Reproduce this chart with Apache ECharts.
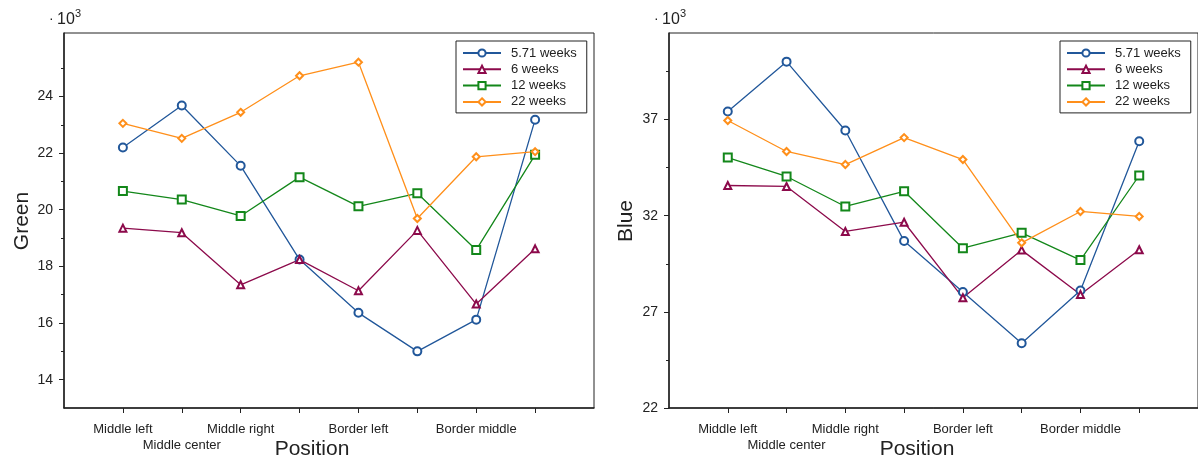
<!DOCTYPE html>
<html>
<head>
<meta charset="utf-8">
<script src="https://cdn.jsdelivr.net/npm/echarts@6/dist/echarts.min.js"></script>
<style>
  html, body { margin: 0; padding: 0; background: #fff; }
  #main { width: 1198px; height: 459px; }
</style>
</head>
<body>
<div id="main"></div>
<script>
// positions along the x axis (empty = tick without label)
const positions = ['Middle left', 'Middle center', 'Middle right', '', 'Border left', '', 'Border middle', ''];
const weeks = ['5.71 weeks', '6 weeks', '12 weeks', '22 weeks'];

// Green channel, x 10^3
const green571 = [22.20, 23.68, 21.55, 18.24, 16.36, 15.00, 16.12, 23.18];
const green6   = [19.35, 19.19, 17.35, 18.24, 17.14, 19.27, 16.67, 18.62];
const green12  = [20.66, 20.36, 19.78, 21.15, 20.12, 20.58, 18.58, 21.94];
const green22  = [23.05, 22.52, 23.44, 24.73, 25.21, 19.69, 21.87, 22.05];

// Blue channel, x 10^3
const blue571 = [37.42, 40.01, 36.43, 30.68, 28.03, 25.37, 28.11, 35.87];
const blue6   = [33.57, 33.52, 31.18, 31.66, 27.73, 30.21, 27.90, 30.23];
const blue12  = [35.02, 34.04, 32.48, 33.27, 30.31, 31.11, 29.69, 34.09];
const blue22  = [36.95, 35.34, 34.66, 36.06, 34.92, 30.59, 32.22, 31.96];

const greenTicks = [14, 16, 18, 20, 22, 24];
const greenMinor = [15, 17, 19, 21, 23, 25];
const blueTicks = [22, 27, 32, 37];
const blueMinor = [24.5, 29.5, 34.5, 39.5];

const font = "'Liberation Sans', Arial, sans-serif";
const ink = '#222';
const colors = ['#21579a', '#8c0a4b', '#13871a', '#ff8f1a'];
const symbols = ['emptyCircle', 'emptyTriangle', 'emptyRect', 'emptyDiamond'];
const symSizes = [8, 7, 8, 7];

var chart = echarts.init(document.getElementById('main'));

// positions sit at 1..8, the frame spans 0..9
let xTicks = positions.map((p, i) => i + 1);
let xLabelled = [0].concat(positions.map((p, i) => p ? i + 1 : null).filter(v => v !== null));

function xAxisFor(gi) {
    return {
        type: 'value', gridIndex: gi, min: 0, max: 9, interval: 1,
        axisLine: { show: true, onZero: false, lineStyle: { color: ink, width: 1.5 } },
        axisTick: { show: true, customValues: xTicks, length: 5, lineStyle: { color: ink } },
        axisLabel: {
            customValues: xLabelled,
            formatter: v => (v < 1 || v > 8) ? '' : (v % 2 === 0 ? '\n' : '') + positions[v - 1],
            fontSize: 13, lineHeight: 16, color: ink, fontFamily: font, margin: 13,
            showMinLabel: true, showMaxLabel: true, hideOverlap: false
        },
        splitLine: { show: false }
    };
}

function yAxisMain(gi, min, max, ticks) {
    return {
        type: 'value', gridIndex: gi, min: min, max: max, position: 'left',
        axisLine: { show: true, lineStyle: { color: ink, width: 1.5 } },
        axisTick: { show: true, customValues: ticks, length: 5, lineStyle: { color: ink } },
        axisLabel: { customValues: ticks, fontSize: 14, color: ink, fontFamily: font, margin: 11 },
        splitLine: { show: false }
    };
}

function yAxisMinor(gi, min, max, ticks) {
    return {
        type: 'value', gridIndex: gi, min: min, max: max, position: 'left', offset: 0,
        axisLine: { show: false },
        axisTick: { show: true, customValues: ticks, length: 3, lineStyle: { color: ink } },
        axisLabel: { show: false },
        splitLine: { show: false }
    };
}

function legendAt(left) {
    return {
        left: left, top: 41, orient: 'vertical', data: weeks,
        itemWidth: 38, itemHeight: 9, itemGap: 2.3,
        padding: [5, 10, 4, 6],
        borderColor: ink, borderWidth: 1, backgroundColor: '#fff',
        lineStyle: { width: 2 },
        textStyle: { fontSize: 13, lineHeight: 14, color: ink, fontFamily: font, padding: [0, 0, 0, 5] }
    };
}

let series = [];
[[green571, green6, green12, green22], [blue571, blue6, blue12, blue22]].forEach((group, gi) => {
    group.forEach((vals, k) => {
        series.push({
            name: weeks[k],
            type: 'line',
            xAxisIndex: gi,
            yAxisIndex: gi * 2,
            data: vals.map((v, i) => [i + 1, v]),
            symbol: symbols[k],
            symbolSize: symSizes[k],
            color: colors[k],
            lineStyle: { width: 1.3, color: colors[k] },
            itemStyle: { color: colors[k], borderWidth: 1.3 },
            animation: false
        });
    });
});

function sciMark(x) {
    return [
        { type: 'text', left: x, top: 12, style: { text: '·', fontSize: 14, fill: ink, fontFamily: font } },
        { type: 'text', left: x + 8, top: 12, style: { text: '10', fontSize: 16, fill: ink, fontFamily: font } },
        { type: 'text', left: x + 26, top: 8, style: { text: '3', fontSize: 11, fill: ink, fontFamily: font } }
    ];
}

let option = {
    backgroundColor: '#fff',
    animation: false,
    grid: [
        { left: 64, top: 33, width: 530, height: 375, show: true, borderColor: ink, borderWidth: 1 },
        { left: 669, top: 33, width: 530, height: 375, show: true, borderColor: ink, borderWidth: 1 }
    ],
    xAxis: [xAxisFor(0), xAxisFor(1)],
    yAxis: [
        yAxisMain(0, 13, 26.24, greenTicks), yAxisMinor(0, 13, 26.24, greenMinor),
        yAxisMain(1, 22, 41.5, blueTicks), yAxisMinor(1, 22, 41.5, blueMinor)
    ],
    legend: [legendAt(456), legendAt(1060)],
    graphic: [
        { type: 'text', x: 22, y: 221, rotation: Math.PI / 2,
          style: { text: 'Green', fontSize: 21, fill: ink, fontFamily: font, align: 'center', verticalAlign: 'middle' } },
        { type: 'text', x: 626, y: 221, rotation: Math.PI / 2,
          style: { text: 'Blue', fontSize: 21, fill: ink, fontFamily: font, align: 'center', verticalAlign: 'middle' } },
        { type: 'text', x: 312, y: 449,
          style: { text: 'Position', fontSize: 21, fill: ink, fontFamily: font, align: 'center', verticalAlign: 'middle' } },
        { type: 'text', x: 917, y: 449,
          style: { text: 'Position', fontSize: 21, fill: ink, fontFamily: font, align: 'center', verticalAlign: 'middle' } }
    ].concat(sciMark(49), sciMark(654)),
    series
};
chart.setOption(option);
</script>
</body>
</html>
